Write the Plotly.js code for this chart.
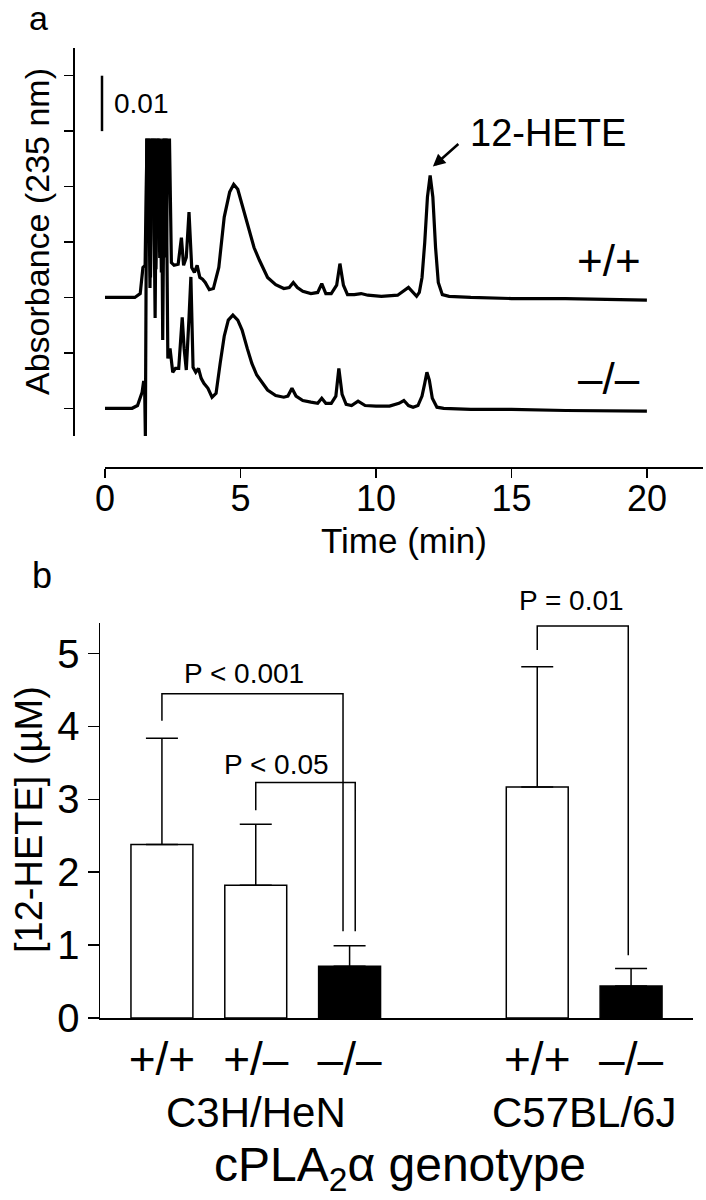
<!DOCTYPE html>
<html><head><meta charset="utf-8">
<script src="https://cdn.plot.ly/plotly-3.0.1.min.js"></script>
<style>html,body{margin:0;padding:0;background:#fff}#chart{width:706px;height:1200px}</style>
</head><body><div id="chart"></div>
<script>
// ---------- Panel a: HPLC chromatograms (absorbance at 235 nm, in mAU) ----------
const timeWT = [0,0.5,1.1,1.3,1.4,1.48,1.55,1.62,1.68,1.75,1.82,1.88,1.95,2.02,2.08,2.14,2.2,2.26,2.32,2.38,
  2.45,2.55,2.7,2.82,2.9,3.0,3.1,3.2,3.3,3.4,3.5,3.6,3.7,3.85,4.0,4.2,4.4,4.6,4.75,4.9,
  5.1,5.3,5.5,5.7,6.0,6.3,6.6,6.8,6.95,7.1,7.3,7.6,7.85,8.0,8.15,8.35,8.55,8.67,8.8,8.95,
  9.2,9.45,9.7,10.2,10.8,11.2,11.5,11.6,11.7,11.8,11.9,12.0,12.1,12.2,12.3,12.45,12.7,13.5,15,17,18.5,20];
const absWT = [0,0,0,0.7,5.4,5.8,28.4,28.4,3.6,28.4,28.4,5.1,28.4,28.4,4.5,28.4,28.4,7.2,28.4,28.4,
  6.3,5.8,6.0,10.8,5.8,7.2,15.4,5.4,4.5,5.8,3.6,3.3,2.7,1.4,1.6,5.4,14.5,19.0,20.4,19.5,
  15.9,12.1,9.0,6.7,3.6,2.3,1.6,1.8,2.7,1.8,1.1,0.7,0.9,2.5,0.7,0.7,2.2,6.1,2.2,0.5,
  0.5,0.7,0.4,0.2,0.4,1.8,0.2,0.9,3.6,9.9,18.1,22.0,18.1,9.0,2.7,0.5,0.2,0,-0.2,-0.2,-0.4,-0.5];
const timeKO = [0,0.5,1.0,1.2,1.37,1.42,1.46,1.49,1.54,1.6,1.66,1.72,1.78,1.85,1.9,1.96,2.02,2.08,2.13,2.19,
  2.25,2.32,2.4,2.5,2.6,2.72,2.85,2.92,3.0,3.1,3.17,3.25,3.35,3.45,3.55,3.65,3.8,3.95,4.1,4.25,
  4.4,4.55,4.72,4.9,5.06,5.25,5.42,5.6,5.75,6.0,6.3,6.6,6.75,6.9,7.05,7.3,7.6,7.85,8.0,8.15,
  8.35,8.52,8.63,8.75,8.9,9.1,9.34,9.6,10.0,10.5,10.85,11.03,11.2,11.37,11.55,11.7,11.8,11.88,11.97,12.08,
  12.25,12.5,13.5,15,17,18.5,20];
const absKO = [0,0,0,0.5,2.9,4.7,4.7,-5.1,48.4,48.4,21.7,48.4,48.4,16.3,48.4,48.4,27.1,48.4,12.3,48.4,
  48.4,9.0,10.8,6.5,7.2,7.2,16.4,10.8,6.9,16.3,23.7,7.4,6.5,7.2,5.4,4.5,3.6,2.0,2.7,8.1,
  13.0,15.9,16.8,15.9,14.1,10.8,8.1,6.0,4.9,3.3,2.3,2.0,2.2,3.6,2.2,1.4,1.1,0.9,1.8,0.9,
  0.9,2.2,7.2,2.5,0.7,0.5,1.3,0.5,0.4,0.4,0.9,1.4,0.5,0.2,0.5,2.2,4.5,6.5,5.1,1.8,
  0.2,0,-0.2,-0.2,-0.4,-0.4,-0.5];
const traceLabels = ['+/+', '\u2013/\u2013'];
const stackOffset = 20;              // vertical offset of the +/+ trace (mAU)
const timeTicks = [0,5,10,15,20];
const absTicks = [0,10,20,30,40,50,60];

// ---------- Panel b: 12-HETE concentrations ----------
const genotypes = ['+/+', '+/\u2013', '\u2013/\u2013', '+/+', '\u2013/\u2013'];
const strainNames = ['C3H/HeN', 'C57BL/6J'];
const hete = [2.38, 1.82, 0.71, 3.17, 0.44];      // mean, µM
const heteSD = [1.46, 0.84, 0.28, 1.65, 0.24];    // upper error
const concTicks = [0,1,2,3,4,5];
const pLabels = ['P < 0.001', 'P < 0.05', 'P = 0.01'];
const pFrom = [0, 1, 3];   // bar index
const pTo = [2, 2, 4];
const pTop = [4.45, 3.23, 5.38];
const pFromEnd = [4.08, 2.85, 5.05];
const pToEnd = [1.19, 1.19, 0.86];

// ---------- geometry ----------
const W = 706, H = 1200;
const px = v => v / W;
const py = v => 1 - v / H;
const FONT = '"Liberation Sans", Arial, Helvetica, sans-serif';
const barPos = [0, 1, 2, 4, 5];
const strainPos = [1, 4.5];
const toLegShift = [-0.07, 0.06, -0.03];
const pLabelX = [0.87, 1.22, 4.36];
const pLabelY = [4.73, 3.48, 5.73];
const B_ZERO = 1018, B_TOP = 623, B_MAX = 5.42;
const concToPaper = v => py(B_ZERO - v * (B_ZERO - B_TOP) / B_MAX);

const traces = [];
traces.push({x: timeWT, y: absWT.map(v => v + stackOffset), type: 'scatter', mode: 'lines',
  line: {color: 'black', width: 3.2}, xaxis: 'x', yaxis: 'y', hoverinfo: 'skip'});
traces.push({x: timeKO, y: absKO, type: 'scatter', mode: 'lines',
  line: {color: 'black', width: 3.2}, xaxis: 'x', yaxis: 'y', hoverinfo: 'skip'});

traces.push({
  x: barPos, y: hete, type: 'bar', width: 0.66, xaxis: 'x2', yaxis: 'y2',
  marker: {color: ['white','white','black','white','black'], line: {color: 'black', width: 1.5},
    pattern: {shape: ['', '/', '', '', ''], fgcolor: 'black', size: 7, solidity: 0.12}},
  error_y: {type: 'data', symmetric: false, array: heteSD, arrayminus: hete.map(() => 0),
    color: 'black', thickness: 1.5, width: 16},
  hoverinfo: 'skip'
});
for (let i = 0; i < pLabels.length; i++) {
  const xl = barPos[pFrom[i]], xr = barPos[pTo[i]] + toLegShift[i];
  traces.push({x: [xl, xl, xr, xr], y: [pFromEnd[i], pTop[i], pTop[i], pToEnd[i]],
    type: 'scatter', mode: 'lines', line: {color: 'black', width: 1.5}, xaxis: 'x2', yaxis: 'y2', hoverinfo: 'skip'});
}

const ann = [];
const A = o => Object.assign({showarrow: false, xanchor: 'center', yanchor: 'middle'}, o);
ann.push(A({text: 'a', xref: 'paper', yref: 'paper', x: px(38), y: py(18), font: {size: 34}}));
ann.push(A({text: 'b', xref: 'paper', yref: 'paper', x: px(42), y: py(575), font: {size: 36}}));
ann.push(A({text: 'Absorbance (235 nm)', xref: 'paper', yref: 'paper', x: px(37), y: py(232), textangle: -90, font: {size: 34}}));
ann.push(A({text: 'Time (min)', xref: 'paper', yref: 'paper', x: px(404), y: py(540), font: {size: 35}}));
ann.push(A({text: '0.01', xref: 'paper', yref: 'y', x: px(112), y: 55, xanchor: 'left', font: {size: 28}}));
ann.push(A({text: '12-HETE', xref: 'paper', yref: 'paper', x: px(548), y: py(133), font: {size: 38}}));
ann.push({text: '', xref: 'x', yref: 'y', x: 12.1, y: 43.6, ax: 27, ay: -24, showarrow: true,
  arrowhead: 2, arrowsize: 1, arrowwidth: 2.5, arrowcolor: 'black', standoff: 0});
ann.push(A({text: traceLabels[0], xref: 'x', yref: 'y', x: 18.6, y: 26.7, font: {size: 44}}));
ann.push(A({text: traceLabels[1], xref: 'x', yref: 'y', x: 18.6, y: 5.4, font: {size: 44}}));
ann.push(A({text: '[12-HETE] (\u00b5M)', xref: 'paper', yref: 'paper', x: px(29), y: py(820), textangle: -90, font: {size: 38}}));
for (let i = 0; i < pLabels.length; i++) {
  ann.push(A({text: pLabels[i], xref: 'x2', yref: 'paper', x: pLabelX[i], y: concToPaper(pLabelY[i]), font: {size: 28}}));
}
for (let i = 0; i < strainNames.length; i++) {
  ann.push(A({text: strainNames[i], xref: 'x2', yref: 'paper', x: strainPos[i], y: py(1112), font: {size: 42}}));
}
ann.push(A({text: 'cPLA<sub>2</sub>\u03b1 genotype', xref: 'paper', yref: 'paper', x: px(400), y: py(1168), font: {size: 48}}));

const axisCommon = {showline: true, linecolor: 'black', linewidth: 1.5, showgrid: false, zeroline: false,
  tickcolor: 'black', tickwidth: 1.5, fixedrange: true};

const layout = {
  width: W, height: H, margin: {l: 0, r: 0, t: 0, b: 0},
  paper_bgcolor: 'white', plot_bgcolor: 'rgba(0,0,0,0)', showlegend: false,
  font: {family: FONT, color: 'black'},
  xaxis: Object.assign({}, axisCommon, {domain: [px(105), px(703)], range: [0, 22.07], anchor: 'free', position: py(467),
    ticks: 'outside', ticklen: 9, ticklabelstandoff: -10, tickvals: timeTicks, ticktext: timeTicks.map(String), tickfont: {size: 36}}),
  yaxis: Object.assign({}, axisCommon, {domain: [py(436), py(48)], range: [-5, 65], anchor: 'free', position: px(73),
    ticks: 'outside', ticklen: 9, tickvals: absTicks, showticklabels: false}),
  xaxis2: Object.assign({}, axisCommon, {domain: [px(100), px(693)], range: [-0.66, 5.66], anchor: 'y2',
    ticks: '', tickvals: barPos, ticktext: genotypes, tickfont: {size: 46}}),
  yaxis2: Object.assign({}, axisCommon, {domain: [py(B_ZERO), py(B_TOP)], range: [0, B_MAX], anchor: 'x2',
    ticks: 'outside', ticklen: 11, tickvals: concTicks, ticktext: concTicks.map(String), tickfont: {size: 40}}),
  shapes: [{type: 'line', xref: 'paper', yref: 'y', x0: px(102), x1: px(102), y0: 50, y1: 60,
    line: {color: 'black', width: 2.5}}],
  annotations: ann
};

Plotly.newPlot('chart', traces, layout, {displayModeBar: false, staticPlot: true});
</script>
</body></html>
